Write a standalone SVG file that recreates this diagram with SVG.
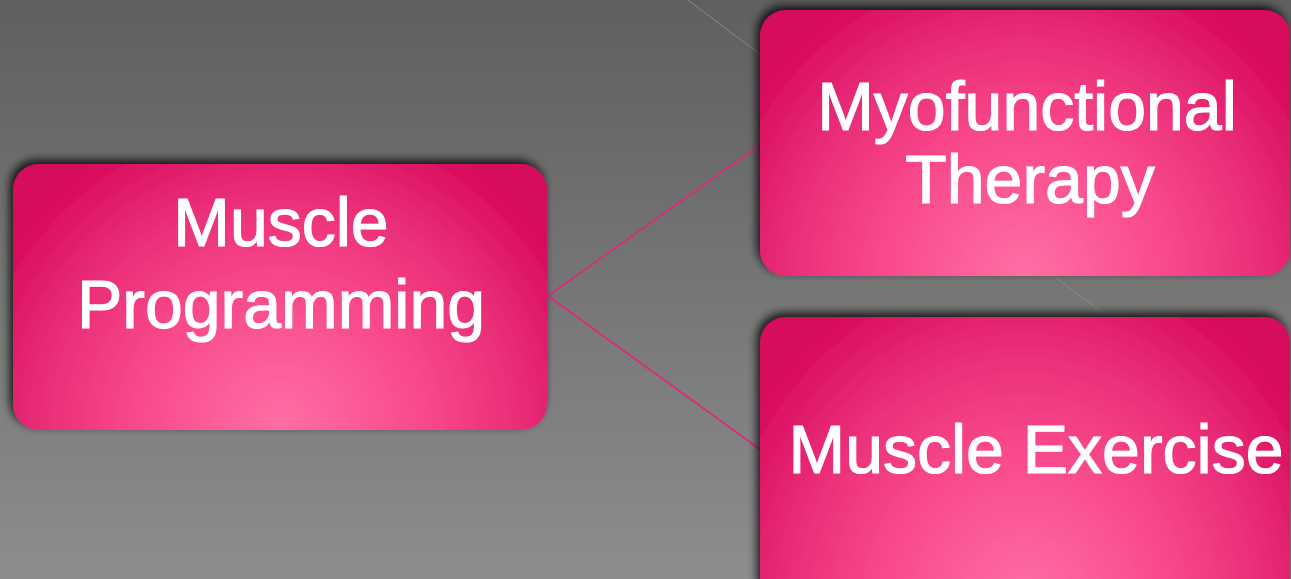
<svg xmlns="http://www.w3.org/2000/svg" width="1291" height="579" viewBox="0 0 1291 579">
  <defs>
    <linearGradient id="bg" x1="0" y1="0" x2="0" y2="1">
      <stop offset="0" stop-color="#5f5f5f"/>
      <stop offset="1" stop-color="#8d8d8d"/>
    </linearGradient>
    <radialGradient id="pink" cx="0.5" cy="1" r="0.62" fx="0.5" fy="1" gradientTransform="translate(0.5 1) scale(1 2) translate(-0.5 -1)">
      <stop offset="0" stop-color="#ff6fa6"/>
      <stop offset="0.45" stop-color="#f8488b"/>
      <stop offset="0.75" stop-color="#e82a76"/>
      <stop offset="1" stop-color="#d6085b"/>
    </radialGradient>
    <filter id="shadow" x="-10%" y="-15%" width="120%" height="130%">
      <feGaussianBlur in="SourceAlpha" stdDeviation="5"/>
      <feOffset dx="-3" dy="-4" result="b"/>
      <feComponentTransfer><feFuncA type="linear" slope="0.85"/></feComponentTransfer>
      <feMerge><feMergeNode/><feMergeNode in="SourceGraphic"/></feMerge>
    </filter>
  </defs>
  <style>
    .box { fill: url(#pink); filter: url(#shadow); }
    .lbl { fill: #ffffff; stroke: #ffffff; stroke-width: 1.2; font-family: "Liberation Sans", Arial, sans-serif; font-size: 68px; text-anchor: middle; }
    .conn { stroke: #e0287a; stroke-width: 1.6; fill: none; }
    .deco { stroke: #8a8a8a; stroke-width: 1; fill: none; }
  </style>
  <rect x="0" y="0" width="1291" height="579" fill="url(#bg)"/>
  <line class="deco" x1="688" y1="0" x2="1291" y2="455"/>

  <g id="connectors">
    <line class="conn" x1="548" y1="296" x2="761" y2="144"/>
    <line class="conn" x1="548" y1="296" x2="761" y2="450"/>
  </g>

  <g id="node-muscle-programming">
    <rect class="box" x="13" y="164" width="534" height="266" rx="26"/>
    <text class="lbl" x="281" y="246">Muscle</text>
    <text class="lbl" x="281" y="328">Programming</text>
  </g>

  <g id="node-myofunctional-therapy">
    <rect class="box" x="760" y="10" width="530" height="266" rx="26"/>
    <text class="lbl" x="1027" y="130">Myofunctional</text>
    <text class="lbl" x="1030" y="203">Therapy</text>
  </g>

  <g id="node-muscle-exercise">
    <rect class="box" x="760" y="317" width="530" height="290" rx="26"/>
    <text class="lbl" x="1036" y="473">Muscle Exercise</text>
  </g>
</svg>
